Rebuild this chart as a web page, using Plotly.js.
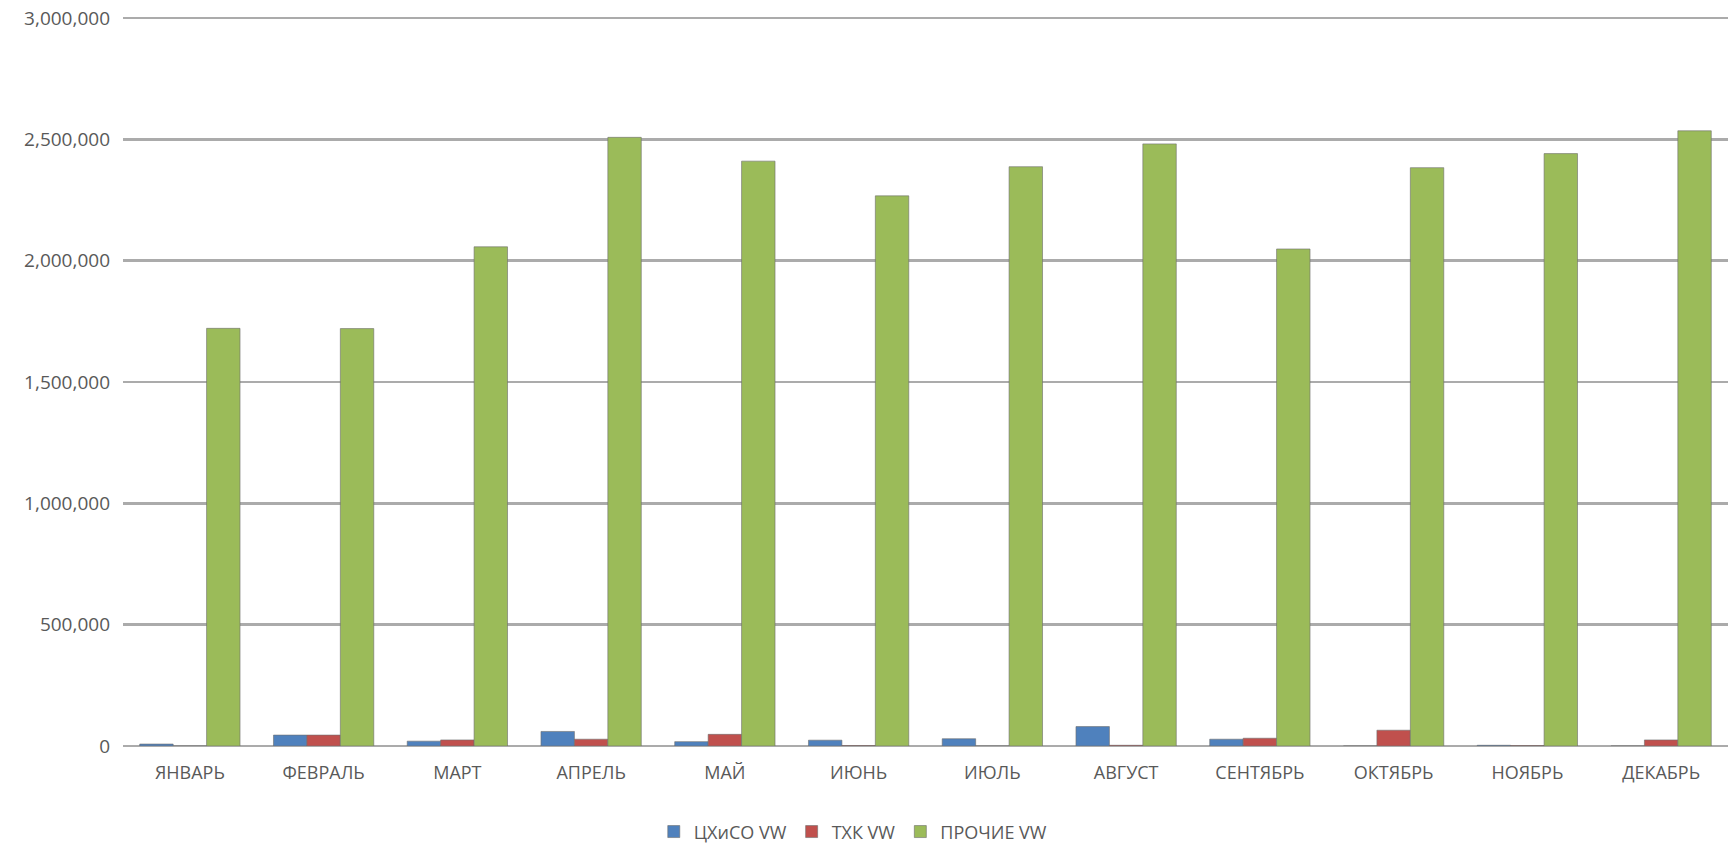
<!DOCTYPE html>
<html>
<head>
<meta charset="utf-8">
<script src="https://cdn.plot.ly/plotly-3.0.1.min.js"></script>
<style>html,body{margin:0;padding:0;background:#fff;}#chart{width:1733px;height:855px;}</style>
</head>
<body>
<div id="chart"></div>
<script>
const months = ["ЯНВАРЬ","ФЕВРАЛЬ","МАРТ","АПРЕЛЬ","МАЙ","ИЮНЬ","ИЮЛЬ","АВГУСТ","СЕНТЯБРЬ","ОКТЯБРЬ","НОЯБРЬ","ДЕКАБРЬ"];
const seriesNames = ["ЦХиСО VW","ТХК VW","ПРОЧИЕ VW"];
const tskhiso = [8000, 45000, 20000, 60000, 18000, 24000, 30000, 80000, 28000, 0, 3000, 0];
const tkh = [0, 45000, 25000, 28000, 48000, 2000, 0, 3000, 32000, 65000, 2000, 25000];
const prochie = [1721000, 1720000, 2057000, 2508000, 2410000, 2267000, 2387000, 2481000, 2048000, 2383000, 2441000, 2535000];
const tickVals = [0, 500000, 1000000, 1500000, 2000000, 2500000, 3000000];
const tickText = ["0","500,000","1,000,000","1,500,000","2,000,000","2,500,000","3,000,000"];

const colors = ["#4F81BD", "#C0504D", "#9BBB59"];
const values = [tskhiso, tkh, prochie];
const traces = values.map((v, i) => ({
  type: "bar",
  name: seriesNames[i],
  x: months,
  y: v,
  marker: {color: colors[i], line: {color: "rgba(110,110,110,0.6)", width: 1}},
  hoverinfo: "x+y+name"
}));

const layout = {
  width: 1733,
  height: 855,
  margin: {l: 123, r: 5, t: 16, b: 97},
  paper_bgcolor: "#fff",
  plot_bgcolor: "#fff",
  barmode: "group",
  bargap: 0.25,
  bargroupgap: 0,
  font: {family: "Open Sans, sans-serif", color: "#595959"},
  xaxis: {
    type: "category",
    showgrid: false,
    showline: false,
    ticks: "",
    tickfont: {size: 18, color: "#595959"},
    ticklabelstandoff: 14
  },
  yaxis: {
    range: [0, 3008000],
    tickvals: tickVals,
    ticktext: tickText,
    showgrid: true,
    gridcolor: "#ababab",
    gridwidth: 2.5,
    zeroline: true,
    zerolinecolor: "#ababab",
    zerolinewidth: 2.5,
    showline: false,
    ticks: "",
    tickfont: {size: 19, color: "#595959"},
    ticklabelstandoff: 12
  },
  showlegend: true,
  legend: {
    orientation: "h",
    x: 0.455,
    xanchor: "center",
    y: -0.1176,
    yanchor: "middle",
    font: {size: 18, color: "#595959"},
    itemwidth: 30
  }
};

Plotly.newPlot("chart", traces, layout, {displayModeBar: false, staticPlot: true});
</script>
</body>
</html>
